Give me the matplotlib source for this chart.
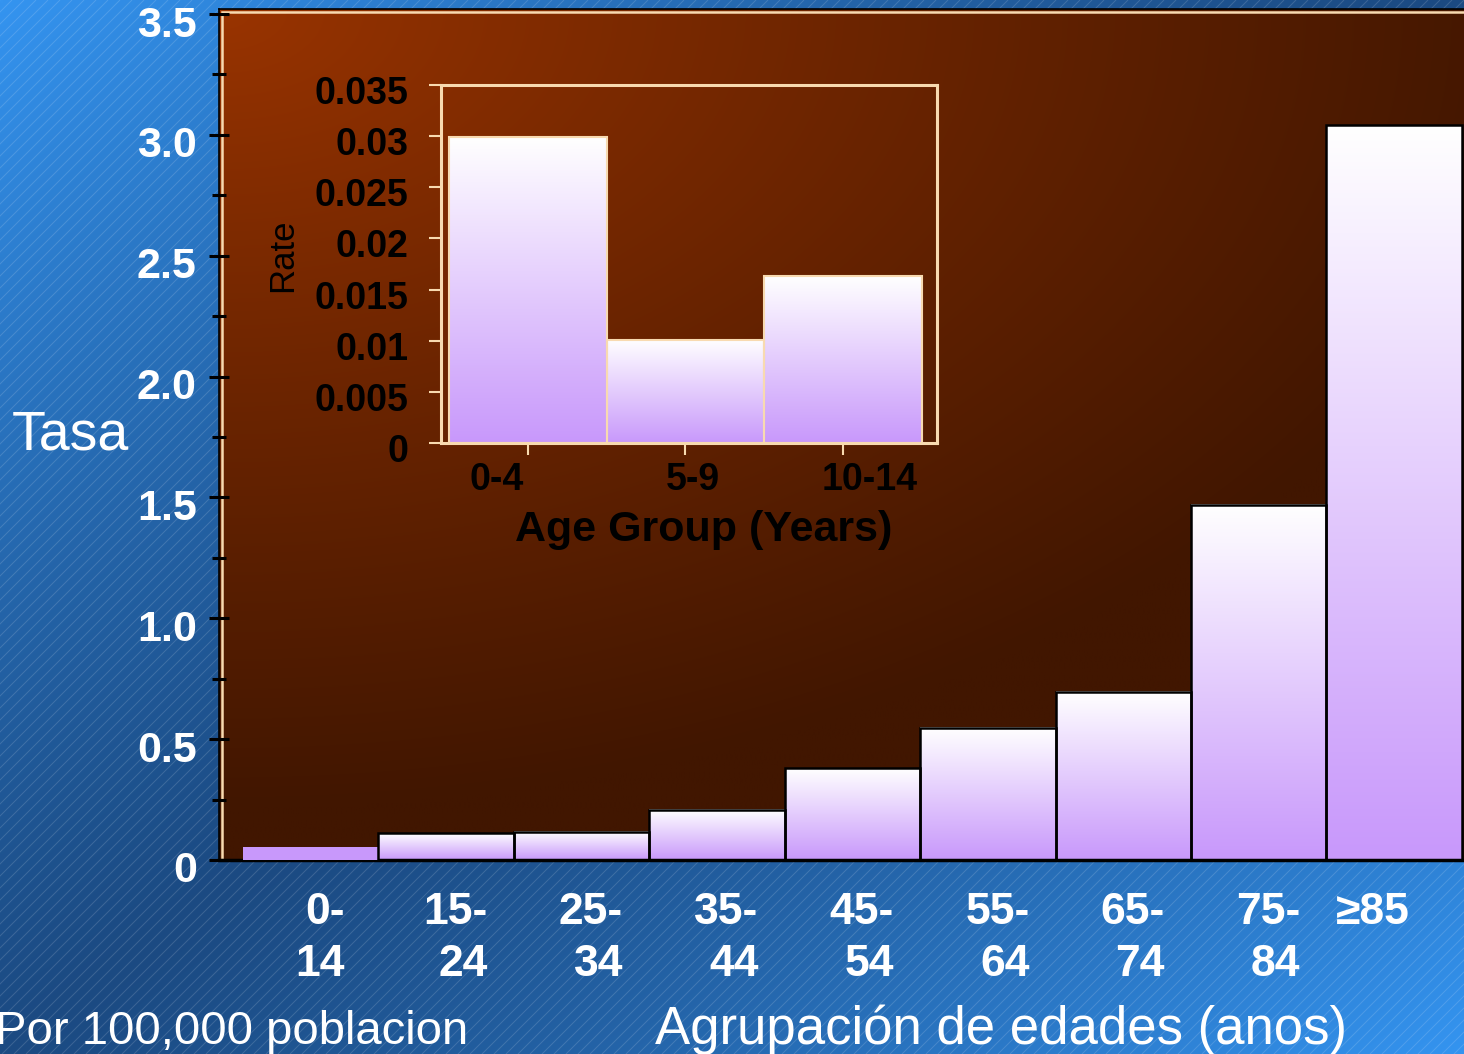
import numpy as np
import matplotlib.pyplot as plt
from matplotlib.colors import LinearSegmentedColormap, to_rgb
from matplotlib.patches import Rectangle
from matplotlib.collections import LineCollection
from matplotlib.transforms import ScaledTranslation

plt.rcParams['font.family'] = ['Liberation Sans', 'DejaVu Sans']

# main chart data
age_groups = ["0-\n14", "15-\n24", "25-\n34", "35-\n44", "45-\n54",
              "55-\n64", "65-\n74", "75-\n84", "\u226585"]
rates = [0.055, 0.11, 0.117, 0.207, 0.379, 0.547, 0.696, 1.469, 3.041]
y_ticks = [0, 0.5, 1.0, 1.5, 2.0, 2.5, 3.0, 3.5]
y_tick_labels = ["0", "0.5", "1.0", "1.5", "2.0", "2.5", "3.0", "3.5"]

# inset data
child_groups = ["0-4", "5-9", "10-14"]
child_rates = [0.0299, 0.0101, 0.0163]
inset_ticks = [0, 0.005, 0.01, 0.015, 0.02, 0.025, 0.03, 0.035]
inset_tick_labels = ["0", "0.005", "0.01", "0.015", "0.02", "0.025", "0.03", "0.035"]

W, H = 1464, 1054
TAN = '#f8dab0'
LAV = '#c898fb'
grad_cmap = LinearSegmentedColormap.from_list('lav', [LAV, '#ffffff'])

fig = plt.figure(figsize=(W / 100, H / 100), dpi=100)


def fx(px):
    return px / W


def fy(py):
    return 1 - py / H


def nudge(labels, dy_px):
    for t in labels:
        t.set_transform(t.get_transform() + ScaledTranslation(0, -dy_px / 100, fig.dpi_scale_trans))


# blue background with thin diagonal lines
bg = fig.add_axes([0, 0, 1, 1], zorder=-2)
bg.set_xlim(0, W)
bg.set_ylim(0, H)
bg.axis('off')
yy, xx = np.mgrid[0:1:200j, 0:1:280j]
s = np.abs((xx + yy) / 2 - 0.5) * 2
dark, bright = np.array(to_rgb('#1b4a82')), np.array(to_rgb('#3494f0'))
blue = dark + (bright - dark) * s[..., None] ** 1.2
bg.imshow(blue, extent=(0, W, 0, H), origin='upper', aspect='auto', interpolation='bilinear')
segs = [[(c, 0), (c + H, H)] for c in range(-H, W, 12)]
bg.add_collection(LineCollection(segs, colors=[(1, 1, 1, 0.15)], linewidths=0.7))

# main axes
ax = fig.add_axes([fx(219), fy(860), fx(1466) - fx(219), (860 - 9) / H], zorder=1)
ax.set_facecolor('none')
v, u = np.mgrid[0:1:200j, 0:1:300j]
d = np.clip(np.sqrt((u * 1247 * 0.9) ** 2 + (v * 851 * 1.5) ** 2) / 1200, 0, 1)
c0, c1 = np.array(to_rgb('#9a3400')), np.array(to_rgb('#411600'))
brown = c0 + (c1 - c0) * d[..., None] ** 0.9
ax.imshow(brown, extent=(0, 1, 0, 1), transform=ax.transAxes, origin='upper',
          aspect='auto', zorder=0, interpolation='bilinear')
ax.add_patch(Rectangle((2.5 / 1247, 0), 1, 1 - 3 / 851, transform=ax.transAxes,
                       fill=False, edgecolor=TAN, lw=1.8, zorder=1))

x = np.arange(len(rates))
bars = ax.bar(x, rates, width=1.0, facecolor='none', edgecolor='black', lw=1.8, zorder=3)
grad = np.linspace(0, 1, 256).reshape(-1, 1)
for i, b in enumerate(bars):
    if i == 0:
        b.set_facecolor(LAV)
        b.set_edgecolor('none')
        continue
    ax.imshow(grad, extent=(b.get_x(), b.get_x() + b.get_width(), 0, b.get_height()),
              origin='lower', cmap=grad_cmap, aspect='auto', zorder=2, interpolation='bilinear')

ax.set_xlim(-0.677, 8.53)
ax.set_ylim(0, 3.521)
ax.set_yticks(y_ticks)
ax.set_yticklabels(y_tick_labels)
ax.set_yticks(np.arange(0.25, 3.5, 0.5), minor=True)
ax.tick_params(axis='y', which='major', direction='inout', length=14, width=2.2,
               color='black', labelcolor='white', labelsize=31, pad=9)
ax.tick_params(axis='y', which='minor', direction='inout', length=10, width=2.2, color='black')
for t in ax.get_yticklabels():
    t.set_fontweight('bold')
nudge(ax.get_yticklabels(), 7)

label_shift = [0.07] * 8 + [-0.16]
ax.set_xticks(x + np.array(label_shift))
ax.set_xticklabels(age_groups, fontsize=32, fontweight='bold', color='white',
                   multialignment='right', linespacing=1.36, va='top')
ax.tick_params(axis='x', length=0, pad=23)

for side in ['left', 'top']:
    ax.spines[side].set_color('black')
    ax.spines[side].set_linewidth(1.2)
ax.spines['bottom'].set_color('black')
ax.spines['bottom'].set_linewidth(2.5)
ax.spines['right'].set_visible(False)

# inset
axi = fig.add_axes([fx(441), fy(443), (937 - 441) / W, (443 - 85) / H], zorder=3)
axi.set_facecolor('none')
xi = np.arange(len(child_rates))
ibars = axi.bar(xi, child_rates, width=1.0, facecolor='none', edgecolor=TAN, lw=1.5, zorder=3)
for b in ibars:
    axi.imshow(grad, extent=(b.get_x(), b.get_x() + b.get_width(), 0, b.get_height()),
               origin='lower', cmap=grad_cmap, aspect='auto', zorder=2, interpolation='bilinear')
axi.set_xlim(-0.553, 2.598)
axi.set_ylim(0, 0.035)
axi.set_yticks(inset_ticks)
axi.set_yticklabels(inset_tick_labels, fontsize=27, fontweight='bold')
axi.tick_params(axis='y', direction='out', length=8.6, width=1.5, color=TAN,
                labelcolor='black', pad=15)
nudge(axi.get_yticklabels(), 5)
axi.set_xticks(xi)
axi.set_xticklabels([])
axi.tick_params(axis='x', which='major', direction='out', length=8.6, width=1.5, color=TAN)
axi.set_xticks(xi + np.array([-0.2, 0.05, 0.17]), minor=True)
axi.set_xticklabels(child_groups, minor=True, fontsize=27, fontweight='bold')
axi.tick_params(axis='x', which='minor', length=0, pad=14, labelcolor='black')
for sp in axi.spines.values():
    sp.set_color(TAN)
    sp.set_linewidth(2.2)

fig.text(fx(283), fy(255), "Rate", rotation=90, fontsize=25, color='black',
         ha='center', va='center')
fig.text(fx(704), fy(530), "Age Group (Years)", fontsize=31, fontweight='bold',
         color='black', ha='center', va='center')

fig.text(fx(12), fy(435), "Tasa", fontsize=40, color='white', ha='left', va='center')
fig.text(fx(-5), fy(1044), "Por 100,000 poblacion", fontsize=34, color='white',
         ha='left', va='baseline')
fig.text(fx(655), fy(1044), "Agrupación de edades (anos)", fontsize=38, color='white',
         ha='left', va='baseline')

fig.savefig("out.png", dpi=100)
